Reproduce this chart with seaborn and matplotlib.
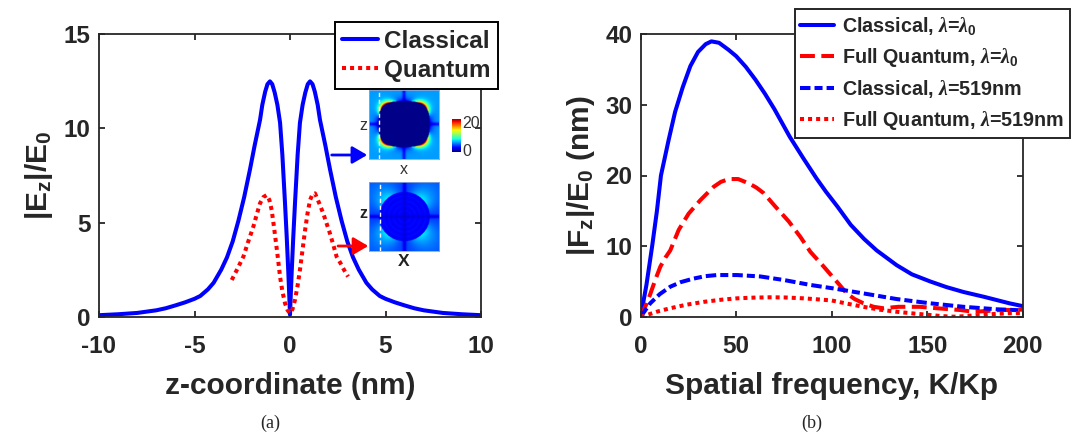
import numpy as np
import pandas as pd
import matplotlib
matplotlib.use("Agg")
import matplotlib.pyplot as plt
from matplotlib.lines import Line2D
from matplotlib.patches import FancyArrowPatch
import seaborn as sns

# ---------------- data: panel (a), field enhancement along z ----------------
z_classical = [-10, -9, -8, -7, -6.5, -6, -5.5, -5, -4.7, -4.3, -4, -3.6, -3.3, -3.0,
               -2.7, -2.4, -2.1, -1.85, -1.57, -1.45, -1.3, -1.18, -1.05, -0.93, -0.8,
               -0.66, -0.52, -0.4, -0.26, -0.17, -0.09, -0.03, 0,
               0.03, 0.09, 0.17, 0.26, 0.4, 0.52, 0.66, 0.8, 0.93, 1.05, 1.18, 1.3,
               1.45, 1.57, 1.85, 2.1, 2.4, 2.7, 3.0, 3.3, 3.6, 4, 4.3, 4.7, 5, 5.5, 6,
               6.5, 7, 8, 9, 10]
e_classical = [0.08, 0.13, 0.2, 0.34, 0.45, 0.6, 0.76, 0.95, 1.1, 1.45, 1.8, 2.5, 3.15, 4.0,
               5.1, 6.35, 7.8, 9.1, 10.45, 11.25, 11.95, 12.35, 12.5, 12.35, 11.9,
               11.25, 10.3, 8.6, 6.0, 4.2, 2.4, 0.9, 0.1,
               0.9, 2.4, 4.2, 6.0, 8.6, 10.3, 11.25, 11.9, 12.35, 12.5, 12.35, 11.95,
               11.25, 10.45, 9.1, 7.8, 6.35, 5.1, 4.0, 3.15, 2.5, 1.8, 1.45, 1.1, 0.95, 0.76,
               0.6, 0.45, 0.34, 0.2, 0.13, 0.08]

z_quantum = [-3.05, -2.75, -2.44, -2.2, -1.92, -1.75, -1.57, -1.4, -1.22, -1.08, -0.96,
             -0.85, -0.73, -0.62, -0.52, -0.4, -0.26, -0.13, 0,
             0.13, 0.26, 0.39, 0.52, 0.65, 0.79, 0.92, 1.05, 1.18, 1.31, 1.5, 1.74, 1.9,
             2.09, 2.27, 2.44, 2.65, 2.85, 3.04]
e_quantum = [1.95, 2.55, 3.19, 3.95, 4.78, 5.4, 6.02, 6.35, 6.46, 6.2, 5.67,
             4.85, 3.9, 3.0, 2.12, 1.35, 0.71, 0.35, 0.18,
             0.4, 0.89, 1.6, 2.48, 3.5, 4.6, 5.5, 6.2, 6.5, 6.55, 6.1, 5.49, 5.0,
             4.43, 3.8, 3.19, 2.83, 2.45, 2.13]

# ---------------- data: panel (b), spectrum vs spatial frequency ----------------
k_cl0 = [0, 3, 6, 8.5, 10.6, 14.6, 18, 22, 26, 30, 34, 37, 41, 46, 50, 55, 60, 65, 70,
         78, 85, 92, 97, 103, 110, 117, 123.5, 134, 142, 151.5, 160, 169, 180, 193, 200]
f_cl0 = [0, 4.5, 10, 15, 20, 25, 29, 32.5, 35.5, 37.5, 38.6, 39, 38.8, 37.8, 36.9, 35.4,
         33.6, 31.6, 29.4, 25.5, 22.5, 19.6, 17.7, 15.6, 13.0, 11.0, 9.4, 7.3, 6.0, 5.0,
         4.2, 3.5, 2.8, 1.9, 1.5]

k_q0 = [0, 3, 5, 7.6, 10.3, 13, 15.5, 19.9, 25.1, 31.2, 38.2, 42, 46.1, 51, 56.5, 60.5,
        64.4, 70.5, 77.5, 83.6, 88.8, 95.8, 101.9, 107.9, 112, 116.6, 122, 127, 134.9,
        146.2, 155, 162, 167.2, 174.1, 181, 188.1, 193.4, 200]
f_q0 = [0, 1.8, 3.2, 5.2, 7.1, 8.4, 9.4, 12.3, 14.6, 16.5, 18.4, 19.1, 19.5, 19.5, 18.9,
        18.3, 17.5, 15.6, 13.5, 11.3, 9.2, 7.1, 5.2, 3.3, 2.5, 1.9, 1.4, 1.2, 1.4,
        1.4, 1.2, 1.05, 0.95, 0.7, 0.8, 0.95, 0.95, 1.0]

k_cl519 = [0, 5, 10, 15.5, 21, 27.7, 34, 40, 50.4, 62.6, 74.9, 88.8, 101, 116.6, 134,
           151.5, 169, 186.4, 200]
f_cl519 = [0, 1.9, 3.2, 4.25, 4.9, 5.4, 5.75, 5.9, 5.9, 5.7, 5.2, 4.5, 4.0, 3.3, 2.5,
           1.9, 1.4, 1.05, 0.9]

k_q519 = [0, 3.3, 9, 15.5, 24, 33, 42, 50.4, 59, 67.9, 76, 85.3, 93, 100, 108, 116.6,
          125, 134, 143, 151.5, 157, 163.7, 170, 177.7, 186, 193.4, 200]
f_q519 = [0, 0.24, 0.75, 1.2, 1.7, 2.1, 2.4, 2.6, 2.7, 2.75, 2.72, 2.6, 2.45, 2.3, 1.85,
          1.4, 1.0, 0.7, 0.45, 0.24, 0.1, 0.0, 0.08, 0.24, 0.4, 0.5, 0.5]

labels_a = ["Classical", "Quantum"]
labels_b = [r"Classical, $\lambda$=$\lambda_{\mathbf{0}}$",
            r"Full Quantum, $\lambda$=$\lambda_{\mathbf{0}}$",
            r"Classical, $\lambda$=519nm",
            r"Full Quantum, $\lambda$=519nm"]

ticks_a_x = [-10, -5, 0, 5, 10]
ticks_a_y = [0, 5, 10, 15]
ticks_b_x = [0, 50, 100, 150, 200]
ticks_b_y = [0, 10, 20, 30, 40]

# ---------------- style ----------------
sns.set_theme(style="ticks")
plt.rcParams.update({
    "font.family": ["Liberation Sans", "DejaVu Sans"],
    "font.weight": "bold",
    "mathtext.fontset": "custom",
    "mathtext.rm": "Liberation Sans:bold",
    "mathtext.bf": "Liberation Sans:bold",
    "mathtext.it": "Liberation Serif:italic",
    "axes.unicode_minus": False,
    "axes.edgecolor": "#262626",
    "axes.linewidth": 1.3,
})

BLUE = "#0000ff"
RED = "#ff0000"
INK = "#262626"
LW = 2.9
DOT = (0, (1, 1))
DASH = (0, (3.7, 1.6))
DASHDOT = (0, (2.6, 1.0, 2.0, 1.0))

W, H = 1080, 433
fig = plt.figure(figsize=(W / 100, H / 100), dpi=100)


def box(x0, y0, x1, y1):
    """Pixel box (top-left origin) to a figure-fraction rect."""
    return [x0 / W, 1 - y1 / H, (x1 - x0) / W, (y1 - y0) / H]


def fpt(x, y):
    return (x / W, 1 - y / H)


def style_axes(ax, xt, yt, xlim, ylim):
    ax.set_xlim(*xlim)
    ax.set_ylim(*ylim)
    ax.set_xticks(xt)
    ax.set_yticks(yt)
    ax.tick_params(direction="in", length=4, width=1.3, top=True, right=True,
                   labelsize=17.5, colors=INK)
    ax.tick_params(axis="x", pad=13)
    ax.tick_params(axis="y", pad=6)
    for lab in ax.get_xticklabels() + ax.get_yticklabels():
        lab.set_fontweight("bold")
        lab.set_color(INK)
    for s in ax.spines.values():
        s.set_visible(True)
        s.set_color(INK)
        s.set_linewidth(1.3)


# ---------------- panel (a) ----------------
ax1 = fig.add_axes(box(99, 34.3, 481, 316.7))
df_c = pd.DataFrame({"z": z_classical, "E": e_classical})
df_q = pd.DataFrame({"z": z_quantum, "E": e_quantum})
sns.lineplot(data=df_c, x="z", y="E", ax=ax1, color=BLUE, lw=LW, sort=False)
sns.lineplot(data=df_q, x="z", y="E", ax=ax1, color=RED, lw=LW, linestyle=DOT, sort=False)
style_axes(ax1, ticks_a_x, ticks_a_y, (-10, 10), (0, 15))
ax1.set_xlabel("z-coordinate (nm)", fontsize=21.5, fontweight="bold", color=INK,
               labelpad=10)
ax1.set_ylabel(r"|E$_{\mathbf{z}}$|/E$_{\mathbf{0}}$", fontsize=21.5, fontweight="bold",
               color=INK, labelpad=6)

h_a = [Line2D([], [], color=BLUE, lw=LW),
       Line2D([], [], color=RED, lw=LW, linestyle=DOT)]
leg1 = fig.legend(h_a, labels_a, loc="upper left", bbox_to_anchor=fpt(334.5, 22.3),
                  bbox_transform=fig.transFigure, borderaxespad=0, fancybox=False,
                  framealpha=1, edgecolor="black", prop={"weight": "bold", "size": 17.5},
                  handlelength=1.5, handletextpad=0.25, borderpad=0.3, labelspacing=0.25)
leg1.get_frame().set_linewidth(1.4)

# inset field maps (|E| on the x-z cut through the particle)
n = 140
g = np.linspace(-1, 1, n)
X, Z = np.meshgrid(g, g)
TH = np.arctan2(Z, X)
ANG = np.sin(2 * TH) ** 2
cross = (1 - 0.5 * np.exp(-(X / 0.05) ** 2)) * (1 - 0.5 * np.exp(-(Z / 0.05) ** 2))

rs = (np.abs(X / 0.74) ** 3 + np.abs(Z / 0.66) ** 3) ** (1 / 3)
d = np.clip(rs - 1, 0, None)
bg = 0.28 * (1 - 0.65 * (1 - ANG) * np.exp(-d / 0.12)) * cross
hot = 0.85 * ANG ** 2 * np.exp(-d / 0.08)
top_map = np.where(rs < 1, 0.01, np.clip(bg + hot, 0, 1))

rr = np.sqrt(X ** 2 + Z ** 2)
d2 = np.clip(rr - 0.72, 0, None)
bg2 = (0.19 + 0.17 * ANG * np.exp(-d2 / 0.35)) * cross
inner = (0.12 + 0.015 * np.sin(rr * 45)) * (1 - 0.3 * np.exp(-(X / 0.05) ** 2)) * \
        (1 - 0.3 * np.exp(-(Z / 0.05) ** 2))
bot_map = np.where(rr < 0.72, inner, bg2)

for rect, img in [(box(369, 90, 438.6, 159.3), top_map),
                  (box(369, 181.7, 439.3, 250.7), bot_map)]:
    axi = fig.add_axes(rect)
    axi.imshow(img, cmap="jet", vmin=0, vmax=1, extent=(-1, 1, -1, 1),
               origin="lower", interpolation="bilinear", aspect="auto")
    axi.axvline(-0.70, color="white", lw=1.0, ls=(0, (3, 2)))
    axi.set_xticks([])
    axi.set_yticks([])
    for s in axi.spines.values():
        s.set_color("#8fa6d8")
        s.set_linewidth(0.6)

axc = fig.add_axes(box(452.4, 119, 461, 152))
axc.imshow(np.linspace(0, 1, 64)[:, None], cmap="jet", aspect="auto", origin="lower")
axc.set_xticks([])
axc.set_yticks([])
for s in axc.spines.values():
    s.set_visible(False)

fig.text(*fpt(462, 123), "20", fontsize=11.5, fontweight="normal", color="#333333",
         ha="left", va="center")
fig.text(*fpt(462, 151), "0", fontsize=11.5, fontweight="normal", color="#333333",
         ha="left", va="center")
fig.text(*fpt(363.8, 126), "z", fontsize=11.5, fontweight="normal", color="#333333",
         ha="center", va="center")
fig.text(*fpt(403.4, 170), "x", fontsize=11.5, fontweight="normal", color="#333333",
         ha="center", va="center")
fig.text(*fpt(363.8, 213.3), "z", fontsize=11.5, fontweight="bold", color="#222222",
         ha="center", va="center")
fig.text(*fpt(404, 261.7), "X", fontsize=12.5, fontweight="bold", color="#222222",
         ha="center", va="center")

for (x0, x1, y, c) in [(331.7, 367.2, 155, BLUE), (338, 368.3, 246, RED)]:
    fig.add_artist(FancyArrowPatch(
        fpt(x0, y), fpt(x1, y), transform=fig.transFigure,
        arrowstyle="-|>,head_length=6,head_width=3.5", color=c, lw=2.0,
        mutation_scale=1.5, shrinkA=0, shrinkB=0))

# ---------------- panel (b) ----------------
ax2 = fig.add_axes(box(640.7, 34.3, 1022.7, 316.7))
series_b = [(k_cl0, f_cl0, BLUE, "-"), (k_q0, f_q0, RED, DASH),
            (k_cl519, f_cl519, BLUE, DASHDOT), (k_q519, f_q519, RED, DOT)]
for kx, fy, col, ls in series_b:
    sns.lineplot(x=kx, y=fy, ax=ax2, color=col, lw=LW, linestyle=ls, sort=False)
style_axes(ax2, ticks_b_x, ticks_b_y, (0, 200), (0, 40))
ax2.set_xlabel("Spatial frequency, K/Kp", fontsize=21.5, fontweight="bold",
               color=INK, labelpad=10)
ax2.set_ylabel(r"|F$_{\mathbf{z}}$|/E$_{\mathbf{0}}$ (nm)", fontsize=21.5,
               fontweight="bold", color=INK, labelpad=6)

h_b = [Line2D([], [], color=c, lw=LW, linestyle=ls) for _, _, c, ls in series_b]
leg2 = fig.legend(h_b, labels_b, loc="upper left", bbox_to_anchor=fpt(794.5, 9.3),
                  bbox_transform=fig.transFigure, borderaxespad=0, fancybox=False,
                  framealpha=1, edgecolor=INK, prop={"weight": "bold", "size": 14.2},
                  handlelength=1.7, handletextpad=0.4, borderpad=0.3, labelspacing=0.45)
leg2.get_frame().set_linewidth(1.4)

# captions
fig.text(*fpt(270, 423), "(a)", fontsize=13, family="Liberation Serif",
         fontweight="normal", ha="center", va="center")
fig.text(*fpt(812, 423), "(b)", fontsize=13, family="Liberation Serif",
         fontweight="normal", ha="center", va="center")

fig.savefig("out.png", dpi=100)
